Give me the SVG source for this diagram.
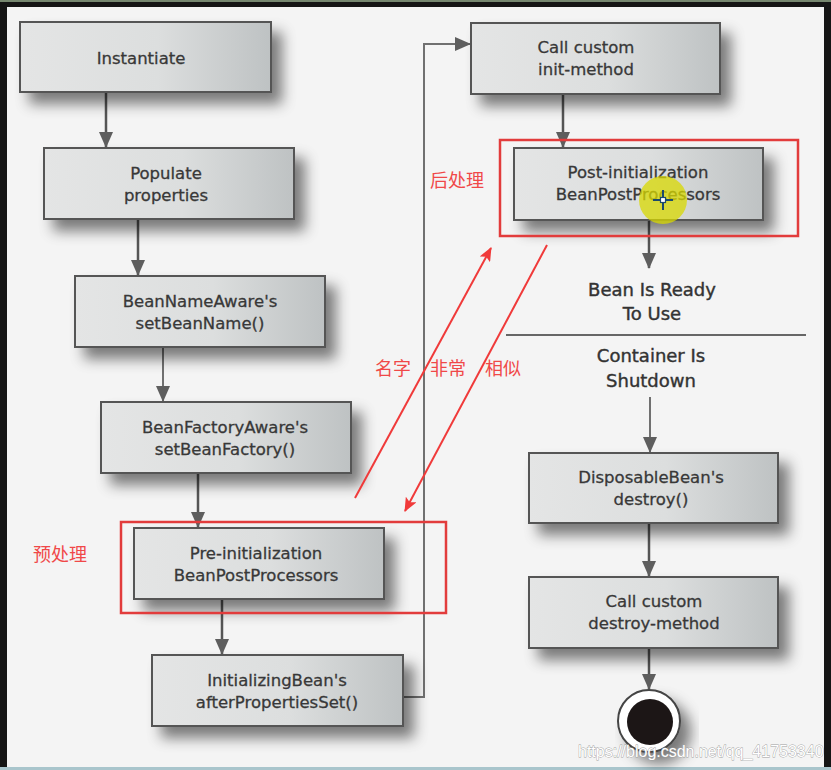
<svg xmlns="http://www.w3.org/2000/svg" width="831" height="770" viewBox="0 0 831 770">
  <defs>
    <linearGradient id="boxGrad" x1="0" y1="0" x2="1" y2="0">
      <stop offset="0" stop-color="#e4e5e5"/>
      <stop offset="0.55" stop-color="#dcdede"/>
      <stop offset="1" stop-color="#bec2c3"/>
    </linearGradient>
    <filter id="shadow" x="-20%" y="-30%" width="150%" height="190%">
      <feGaussianBlur in="SourceAlpha" stdDeviation="7"/>
      <feOffset dx="10" dy="11" result="b"/>
      <feFlood flood-color="#000" flood-opacity="0.5"/>
      <feComposite in2="b" operator="in"/>
      <feMerge><feMergeNode/><feMergeNode in="SourceGraphic"/></feMerge>
    </filter>
    <marker id="arr" viewBox="0 0 16 14" refX="15" refY="7" markerWidth="16" markerHeight="14" markerUnits="userSpaceOnUse" orient="auto">
      <path d="M0,0 L16,7 L0,14 Z" fill="#5e5e5e"/>
    </marker>
    <marker id="redArr" viewBox="0 0 14 12" refX="13" refY="6" markerWidth="14" markerHeight="12" markerUnits="userSpaceOnUse" orient="auto">
      <path d="M0,0 L14,6 L0,12 L3,6 Z" fill="#f03a3a"/>
    </marker>
    <style>
      .box { fill: url(#boxGrad); stroke: #555; stroke-width: 2; }
      .lbl { font-family: "DejaVu Sans", "Liberation Sans", sans-serif; font-size: 16.5px; fill: #383838; stroke: #383838; stroke-width: 0.3; text-anchor: middle; }
      .big { font-family: "DejaVu Sans", "Liberation Sans", sans-serif; font-size: 18px; fill: #333; stroke: #333; stroke-width: 0.4; text-anchor: middle; }
      .conn { fill: none; stroke: #555; stroke-width: 2.5; }
      .conn2 { fill: none; stroke: #707070; stroke-width: 2; }
      .redbox { fill: none; stroke: #e23c3c; stroke-width: 2.5; }
      .red { font-family: "Noto Sans CJK SC", "Noto Sans", sans-serif; font-size: 18px; fill: #f04848; }
      .redline { fill: none; stroke: #f03a3a; }
    </style>
  </defs>

  <!-- screen frame -->
  <rect x="0" y="0" width="831" height="770" fill="#151515"/>
  <rect x="0" y="0" width="831" height="2" fill="#76876f"/>
  <rect x="7" y="7" width="817" height="760" fill="#f4f4f4"/>
  <rect x="0" y="767" width="831" height="3" fill="#a9c5cc"/>

  <!-- connectors -->
  <g id="connectors">
    <line class="conn" x1="106" y1="92" x2="106" y2="147" marker-end="url(#arr)"/>
    <line class="conn" x1="138" y1="219" x2="138" y2="275" marker-end="url(#arr)"/>
    <line class="conn2" x1="163" y1="347" x2="163" y2="401" marker-end="url(#arr)"/>
    <line class="conn" x1="198" y1="473" x2="198" y2="527" marker-end="url(#arr)"/>
    <line class="conn" x1="222" y1="599" x2="222" y2="654" marker-end="url(#arr)"/>
    <polyline class="conn2" points="403,697 424,697 424,44 470,44" marker-end="url(#arr)"/>
    <line class="conn" x1="563" y1="94" x2="563" y2="147" marker-end="url(#arr)"/>
    <line class="conn" x1="649" y1="220" x2="649" y2="268" marker-end="url(#arr)"/>
    <line class="conn2" x1="650" y1="397" x2="650" y2="452" marker-end="url(#arr)"/>
    <line class="conn" x1="649" y1="523" x2="649" y2="576" marker-end="url(#arr)"/>
    <line class="conn" x1="649" y1="648" x2="649" y2="689" marker-end="url(#arr)"/>
  </g>

  <g id="instantiate">
    <rect class="box" x="20" y="22" width="251" height="70" filter="url(#shadow)"/>
    <text class="lbl" x="141" y="64">Instantiate</text>
  </g>
  <g id="populate">
    <rect class="box" x="44" y="148" width="250" height="71" filter="url(#shadow)"/>
    <text class="lbl" x="166" y="179">Populate</text>
    <text class="lbl" x="166" y="201">properties</text>
  </g>
  <g id="beanNameAware">
    <rect class="box" x="75" y="276" width="250" height="71" filter="url(#shadow)"/>
    <text class="lbl" x="200" y="307">BeanNameAware's</text>
    <text class="lbl" x="200" y="329">setBeanName()</text>
  </g>
  <g id="beanFactoryAware">
    <rect class="box" x="101" y="402" width="250" height="71" filter="url(#shadow)"/>
    <text class="lbl" x="225" y="433">BeanFactoryAware's</text>
    <text class="lbl" x="225" y="455">setBeanFactory()</text>
  </g>
  <g id="preInit">
    <rect class="box" x="134" y="528" width="250" height="71" filter="url(#shadow)"/>
    <text class="lbl" x="256" y="559">Pre-initialization</text>
    <text class="lbl" x="256" y="581">BeanPostProcessors</text>
    <rect class="redbox" x="121" y="522" width="325" height="91"/>
  </g>
  <g id="initializingBean">
    <rect class="box" x="152" y="655" width="251" height="71" filter="url(#shadow)"/>
    <text class="lbl" x="277" y="686">InitializingBean's</text>
    <text class="lbl" x="277" y="708">afterPropertiesSet()</text>
  </g>
  <g id="callInit">
    <rect class="box" x="471" y="23" width="249" height="71" filter="url(#shadow)"/>
    <text class="lbl" x="586" y="53">Call custom</text>
    <text class="lbl" x="586" y="75">init-method</text>
  </g>
  <g id="postInit">
    <rect class="box" x="514" y="148" width="249" height="72" filter="url(#shadow)"/>
    <text class="lbl" x="638" y="178">Post-initialization</text>
    <text class="lbl" x="638" y="200">BeanPostProcessors</text>
    <rect class="redbox" x="500" y="140" width="298" height="96"/>
    <circle cx="663" cy="200" r="24" fill="#d8d800" fill-opacity="0.75"/>
    <path d="M663,190 V210 M653,200 H673" stroke="#1c4a6e" stroke-width="2"/>
    <rect x="660.5" y="197.5" width="5" height="5" fill="#fff" stroke="#1c4a6e" stroke-width="1.2"/>
  </g>
  <g id="beanReady">
    <text class="big" x="652" y="296">Bean Is Ready</text>
    <text class="big" x="652" y="320">To Use</text>
    <line x1="506" y1="335" x2="806" y2="335" stroke="#666" stroke-width="2"/>
    <text class="big" x="651" y="362">Container Is</text>
    <text class="big" x="651" y="387">Shutdown</text>
  </g>
  <g id="disposableBean">
    <rect class="box" x="529" y="453" width="249" height="70" filter="url(#shadow)"/>
    <text class="lbl" x="651" y="483">DisposableBean's</text>
    <text class="lbl" x="651" y="505">destroy()</text>
  </g>
  <g id="callDestroy">
    <rect class="box" x="529" y="577" width="249" height="71" filter="url(#shadow)"/>
    <text class="lbl" x="654" y="607">Call custom</text>
    <text class="lbl" x="654" y="629">destroy-method</text>
  </g>
  <g id="end">
    <circle cx="649" cy="721" r="31" fill="#fff" stroke="#444" stroke-width="2" filter="url(#shadow)"/>
    <circle cx="650" cy="722" r="23" fill="#1c1616"/>
  </g>

  <!-- red annotations -->
  <g id="annotations">
    <text class="red" x="430" y="187">后处理</text>
    <text class="red" x="33" y="561">预处理</text>
    <text class="red" x="375" y="375">名字</text>
    <text class="red" x="430" y="375">非常</text>
    <text class="red" x="485" y="375">相似</text>
    <line class="redline" x1="355" y1="498" x2="491" y2="248" stroke-width="2" marker-end="url(#redArr)"/>
    <line class="redline" x1="547" y1="245" x2="405" y2="511" stroke-width="2" marker-end="url(#redArr)"/>
  </g>

  <text x="578" y="757" font-family="Liberation Sans, Arial, sans-serif" font-size="16" fill="#ffffff" stroke="#a0a0a0" stroke-width="0.8" paint-order="stroke">https://blog.csdn.net/qq_41753340</text>
</svg>
